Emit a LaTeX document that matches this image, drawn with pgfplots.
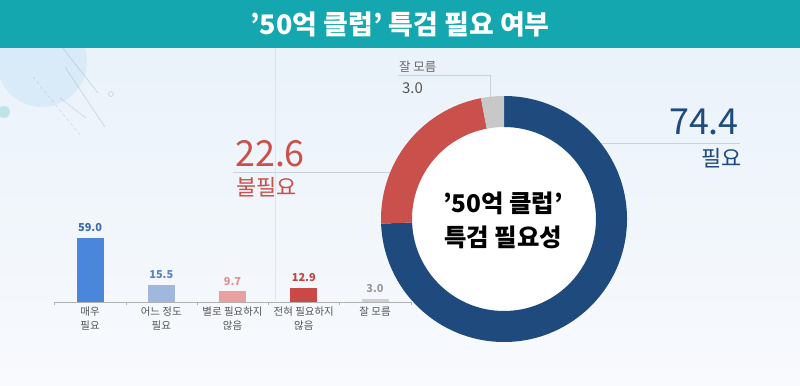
\documentclass[border=0pt]{standalone}
\usepackage{fontspec}
\setmainfont{Noto Sans CJK KR}
\usepackage{pgfplots}
\pgfplotsset{compat=1.18}
\definecolor{tealbar}{HTML}{14A7B0}
\definecolor{bgtop}{HTML}{EAF2FA}
\definecolor{bgbot}{HTML}{F8FAFD}
\definecolor{dblue}{HTML}{1F4A7E}
\definecolor{dred}{HTML}{C9504B}
\definecolor{dgray}{HTML}{C8C8C8}
\definecolor{bA}{HTML}{4A86D9}
\definecolor{bB}{HTML}{A0B8DE}
\definecolor{bC}{HTML}{EBA0A0}
\definecolor{bD}{HTML}{C94848}
\definecolor{bE}{HTML}{D0D0D0}
\definecolor{lA}{HTML}{3A68AC}
\definecolor{lB}{HTML}{5B84BE}
\definecolor{lC}{HTML}{E38F8F}
\definecolor{lD}{HTML}{C94040}
\definecolor{lE}{HTML}{9A9A9A}
\definecolor{labgray}{HTML}{555555}
\definecolor{linegray}{HTML}{C9D2DC}
\definecolor{decoblue}{HTML}{D2E8F8}
\definecolor{decoteal}{HTML}{BFE3E6}
\definecolor{vline}{HTML}{DCE5EE}
\definecolor{axgray}{HTML}{B0B0B0}
\definecolor{g66}{HTML}{666666}
\definecolor{g55}{HTML}{555555}
\begin{document}
\begin{tikzpicture}[x=1bp,y=1bp]
\useasboundingbox (0,0) rectangle (800,385);
% background
\shade[top color=bgtop, bottom color=bgbot] (0,0) rectangle (800,337);
% decorations
\fill[decoblue,opacity=0.7] (42,323) circle[radius=45];
\fill[decoteal] (4,273) circle[radius=6];
\draw[gray,opacity=0.3,line width=0.6] (65,318) -- (105,258);
\draw[gray,opacity=0.3,line width=0.6] (58,343) -- (98,292);
\draw[gray,opacity=0.25,line width=0.6] (60,287) -- (86,267);
\draw[gray,opacity=0.3,dashed] (33,308) -- (80,250);
\draw[gray,opacity=0.45] (84,341) circle[radius=2.5];
\draw[gray,opacity=0.45] (111,291) circle[radius=2.5];
\draw[vline,line width=0.6] (275,337) -- (275,85);
% title bar
\fill[tealbar] (0,337) rectangle (800,385);
\node[text=white,font=\bfseries\fontsize{27}{27}\selectfont,inner sep=0] at (400,361) {'50억 클럽' 특검 필요 여부};

% data
\pgfmathsetmacro{\angB}{90-74.4*3.6}
\pgfmathsetmacro{\angR}{\angB-22.6*3.6}
\pgfmathsetmacro{\angG}{\angR-3.0*3.6}

% bar chart
\begin{axis}[
  at={(54.4bp,83bp)}, anchor=south west,
  scale only axis, width=356.25bp, height=75.95bp,
  xmin=-0.5, xmax=4.5, ymin=0, ymax=70,
  axis x line=bottom, axis y line=none,
  axis line style={-, draw=axgray, line width=0.6pt},
  ybar, bar width=27bp, bar shift=0pt,
  xtick={0,1,2,3,4},
  xticklabels={{매우\\필요},{어느 정도\\필요},{별로 필요하지\\않음},{전혀 필요하지\\않음},{잘 모름}},
  xticklabel style={font=\fontsize{10.5}{14}\selectfont, text=labgray, align=center, anchor=north, yshift=-1bp},
  major tick length=0pt,
  minor xtick={-0.5,0.5,1.5,2.5,3.5,4.5},
  minor tick length=3bp, tick align=outside,
  minor tick style={draw=axgray},
  nodes near coords={\pgfmathprintnumber[fixed,fixed zerofill,precision=1,assume math mode=true]{\pgfplotspointmeta}},
  every node near coord/.append style={font=\bfseries\fontsize{11}{11}\selectfont, anchor=south, inner sep=0pt, yshift=6bp},
  clip=false,
]
\addplot[fill=bA, draw=none, every node near coord/.append style={text=lA}] coordinates {(0,59.0)};
\addplot[fill=bB, draw=none, every node near coord/.append style={text=lB}] coordinates {(1,15.5)};
\addplot[fill=bC, draw=none, every node near coord/.append style={text=lC}] coordinates {(2,9.7)};
\addplot[fill=bD, draw=none, every node near coord/.append style={text=lD}] coordinates {(3,12.9)};
\addplot[fill=bE, draw=none, every node near coord/.append style={text=lE}] coordinates {(4,3.0)};
\end{axis}

% label lines
\draw[linegray,line width=0.7] (601,242) -- (740,242);
\draw[linegray,line width=0.7] (233,213) -- (392,213);
\draw[linegray,line width=0.7] (398,310) -- (490,310) -- (490,288);

% donut
\begin{axis}[
  at={(504bp,166bp)}, anchor=center,
  scale only axis, width=246bp, height=246bp,
  xmin=-1, xmax=1, ymin=-1, ymax=1,
  hide axis, clip=false,
]
\fill[white] (axis cs:0,0) circle[radius=92bp];
\fill[dblue] ([shift={(90:123bp)}]axis cs:0,0) arc[start angle=90, end angle=\angB, radius=123bp]
  -- ([shift={(\angB:92bp)}]axis cs:0,0) arc[start angle=\angB, end angle=90, radius=92bp] -- cycle;
\fill[dred] ([shift={(\angB:123bp)}]axis cs:0,0) arc[start angle=\angB, end angle=\angR, radius=123bp]
  -- ([shift={(\angR:92bp)}]axis cs:0,0) arc[start angle=\angR, end angle=\angB, radius=92bp] -- cycle;
\fill[dgray] ([shift={(\angR:123bp)}]axis cs:0,0) arc[start angle=\angR, end angle=\angG, radius=123bp]
  -- ([shift={(\angG:92bp)}]axis cs:0,0) arc[start angle=\angG, end angle=\angR, radius=92bp] -- cycle;
\end{axis}

% donut center text
\node[font=\bfseries\fontsize{24.5}{34}\selectfont, align=center, inner sep=0] at (503,165) {'50억 클럽'\\특검 필요성};

% donut labels
\node[text=dblue, font=\fontsize{36}{36}\selectfont, anchor=south east, inner sep=0] at (739,250) {74.4};
\node[text=dblue, font=\fontsize{22}{22}\selectfont, anchor=south east, inner sep=0] at (742,217) {필요};
\node[text=dred, font=\fontsize{36}{36}\selectfont, anchor=south west, inner sep=0] at (235,218) {22.6};
\node[text=dred, font=\fontsize{22}{22}\selectfont, anchor=north west, inner sep=0] at (236,208) {불필요};
\node[text=g66, font=\fontsize{12.5}{12.5}\selectfont, anchor=south west, inner sep=0] at (399,312) {잘 모름};
\node[text=g55, font=\fontsize{15}{15}\selectfont, anchor=north west, inner sep=0] at (402,303) {3.0};
\end{tikzpicture}
\end{document}
